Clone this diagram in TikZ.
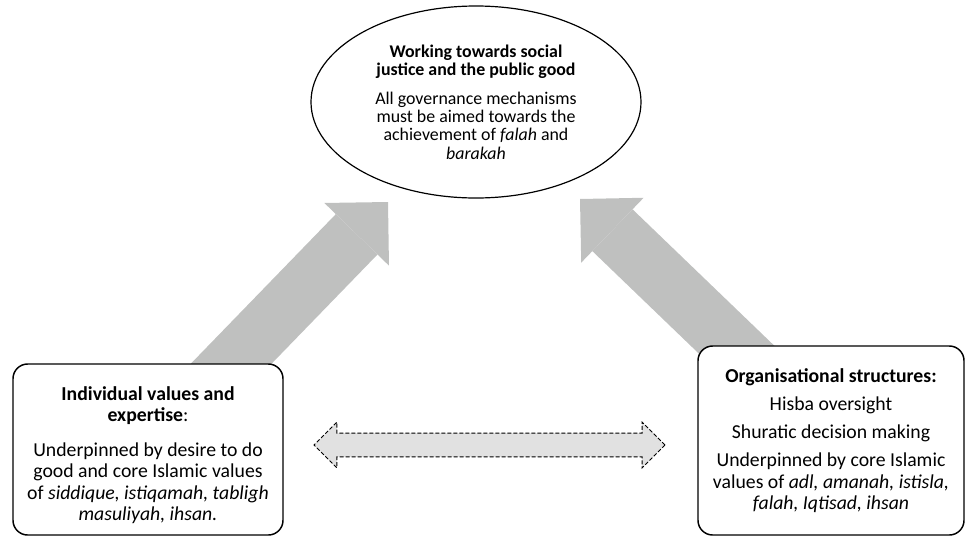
\documentclass[tikz,border=0pt]{standalone}
\usepackage{fontspec}
\setmainfont{Carlito}
\usepackage{tikz}
\usetikzlibrary{shapes.geometric}
\usetikzlibrary{shapes.arrows}
\usetikzlibrary{arrows.meta}
\usetikzlibrary{backgrounds}
\usetikzlibrary{calc}
\definecolor{arrowgray}{RGB}{191,192,191}
\definecolor{linkgray}{RGB}{225,225,225}

\begin{document}
\begin{tikzpicture}[x=0.75pt, y=-0.75pt,
			goalnode/.style={ellipse, draw, fill = white, line width = 0.9pt, minimum width=247.5pt, minimum height=144pt, align=center, inner sep=0pt, font=\fontsize{13.4}{13.8}\selectfont},
			boxnode/.style={draw, fill = white, rounded corners=11pt, line width = 1.1pt, align=center, inner sep=0pt, font=\fontsize{14.8}{16.1}\selectfont},
			bigarrow/.style={arrowgray, line width = 43.5pt, -{Triangle[width=67.5pt, length=33.75pt, line width=0pt]}},
			linkarrow/.style={double arrow, draw, fill = linkgray, line width = 0.6pt, dash pattern=on 3pt off 1.5pt, double arrow tip angle=90, double arrow head extend=8.25pt, minimum height=263.25pt, minimum width=33.75pt, inner xsep=0pt, inner ysep=8.6pt}
		]

		\useasboundingbox (0,0) rectangle (965,536);

		\node[goalnode] (goal) at (476,102) {\textbf{Working towards social} \\ \textbf{justice and the public good} \\[7.5pt] All governance mechanisms \\ must be aimed towards the \\ achievement of \textit{falah} and \\ \textit{barakah}};

		\node[boxnode, minimum width=202.5pt, minimum height=128.25pt] (indiv) at (148,449.5) {\rule{0pt}{19pt}\textbf{Individual values and} \\ \textbf{expertise}: \\[10pt] Underpinned by desire to do \\ good and core Islamic values \\ of \textit{siddique, istiqamah, tabligh} \\ \textit{masuliyah, ihsan.}};

		\node[boxnode, minimum width=199.5pt, minimum height=141.75pt] (org) at (831,440.5) {\textbf{Organisational structures:} \\[5pt] Hisba oversight \\[5pt] Shuratic decision making \\[5pt] Underpinned by core Islamic \\ values of \textit{adl, amanah, istisla,} \\ \textit{falah, Iqtisad, ihsan}};

		\coordinate (tipL) at (388,202);
		\coordinate (tipR) at (580,199);

		\begin{scope}[on background layer]
			\draw[bigarrow] (indiv.center) -- (tipL);
			\draw[bigarrow] (org.center) -- (tipR);
		\end{scope}

		\node[linkarrow] (link) at ($(indiv.center)!0.5!(org.center)$) {};

	\end{tikzpicture}
\end{document}
